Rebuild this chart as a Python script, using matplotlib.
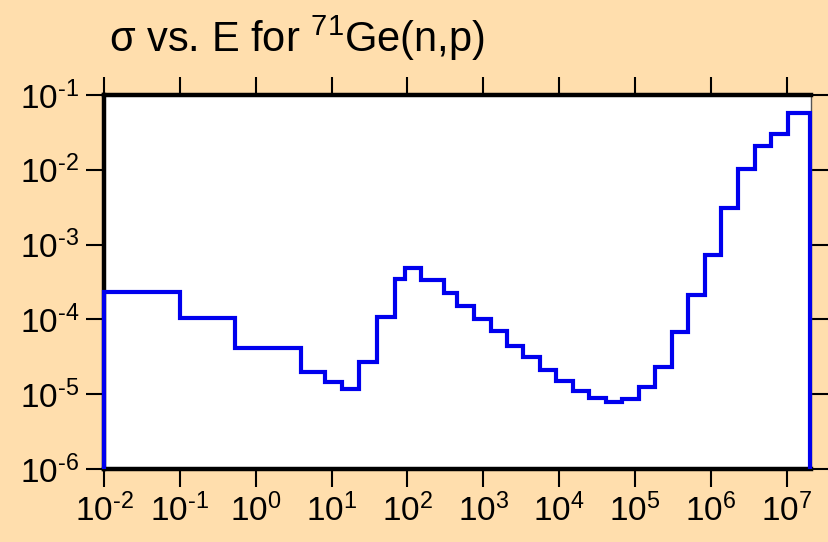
import matplotlib
matplotlib.use("Agg")
import matplotlib.pyplot as plt
from matplotlib.ticker import FuncFormatter
import numpy as np

plt.rcParams['font.family'] = ['Liberation Sans', 'DejaVu Sans']
plt.rcParams['mathtext.fontset'] = 'custom'
plt.rcParams['mathtext.rm'] = 'Liberation Sans'
plt.rcParams['mathtext.it'] = 'Liberation Sans:italic'
plt.rcParams['mathtext.bf'] = 'Liberation Sans:bold'

# Group-wise cross section, bin edges in eV
energy_edges = [1e-2, 1e-1, 0.54, 4.0, 8.3, 13.8, 22.7, 39.9, 67.6, 92.5, 149,
                302, 452, 750, 1245, 2023, 3350, 5546, 9204, 1.524e4, 2.506e4,
                4.198e4, 6.745e4, 1.12e5, 1.86e5, 3.08e5, 5.05e5, 8.36e5,
                1.37e6, 2.25e6, 3.78e6, 6.19e6, 1.03e7, 2.0e7]
sigma = [2.3e-4, 1.03e-4, 4.2e-5, 2.0e-5, 1.47e-5, 1.16e-5, 2.73e-5, 1.09e-4,
         3.43e-4, 4.8e-4, 3.37e-4, 2.23e-4, 1.51e-4, 1.0e-4, 7.0e-5, 4.46e-5,
         3.18e-5, 2.11e-5, 1.49e-5, 1.10e-5, 8.8e-6, 7.9e-6, 8.7e-6, 1.26e-5,
         2.29e-5, 6.73e-5, 2.12e-4, 7.26e-4, 3.08e-3, 1.02e-2, 2.08e-2,
         3.01e-2, 5.69e-2]

x_ticks = [10.0 ** k for k in range(-2, 8)]
y_ticks = [10.0 ** k for k in range(-6, 0)]


def decade_label(v, pos):
    k = int(round(np.log10(v)))
    if k < 0:
        return r"$10^{\text{-}%d}$" % (-k)
    return r"$10^{%d}$" % k


bg = '#FFDEAD'
fig = plt.figure(figsize=(8.29, 5.42), dpi=100, facecolor=bg)
ax = fig.add_axes([104 / 829, 73 / 542, 707 / 829, 374 / 542])
ax.set_facecolor('white')

ax.stairs(sigma, energy_edges, baseline=1e-6, color='#0000EE',
          linewidth=3.0, zorder=3, clip_on=False)

ax.set_xscale('log')
ax.set_yscale('log')
ax.set_xlim(1e-2, 10 ** 7.32)
ax.set_ylim(1e-6, 1e-1)
ax.set_xticks(x_ticks)
ax.set_yticks(y_ticks)
ax.minorticks_off()
ax.xaxis.set_major_formatter(FuncFormatter(decade_label))
ax.yaxis.set_major_formatter(FuncFormatter(decade_label))

ax.tick_params(which='major', direction='out', length=13, width=1.5,
               labelsize=24, top=True, right=True, pad=5)

for side in ['left', 'top', 'bottom']:
    ax.spines[side].set_linewidth(3.2)
ax.spines['right'].set_linewidth(1.0)
ax.spines['right'].set_color('#555555')

fig.text(109 / 829, 1 - 52 / 542, r"σ vs. E for $^{71}$Ge(n,p)",
         fontsize=30, ha='left', va='baseline')

fig.savefig('out.png', dpi=100, facecolor=bg)
